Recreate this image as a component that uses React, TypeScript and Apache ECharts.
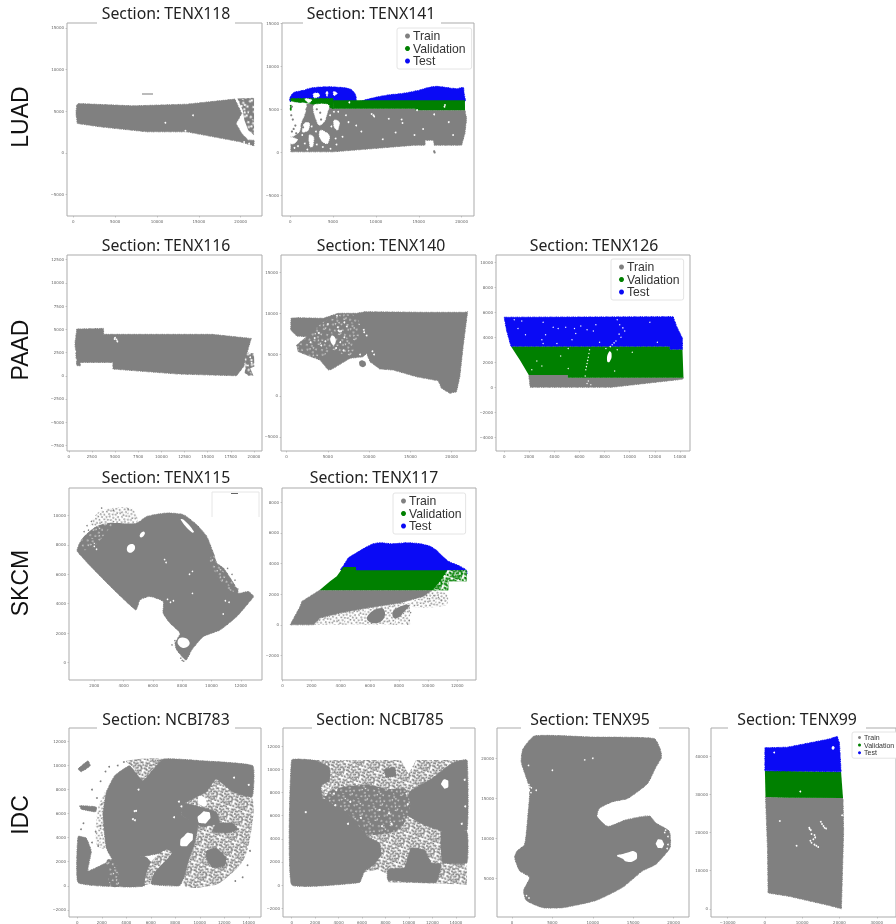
import React, { useEffect, useRef } from "react";
import * as echarts from "echarts";

type P = number[];
const GRAY = "#808080", GREEN = "#008000", BLUE = "#0a0af5", WHITE = "#ffffff";
const FONT = "'Noto Sans', sans-serif";
const LEGEND_FONT = "'Liberation Sans', sans-serif";

const rowLabels = ["LUAD", "PAAD", "SKCM", "IDC"];
const splitNames = ["Train", "Validation", "Test"];

// speckle texture tiles (grain of the tissue spots)
const grainA = [[0.7,1.5],[3.6,0.7],[6.5,2.2],[10.2,0.7],[13.1,2.2],[2.2,4.4],[5.1,5.1],[8.7,4.4],[11.6,5.8],[14.5,4.4],[0.7,7.3],[3.6,8],[7.3,7.3],[10.2,8.7],[13.8,8],[2.2,10.9],[5.8,10.9],[8.7,12.4],[12.4,10.9],[15.3,11.6],[0.7,13.8],[4.4,14.5],[7.3,13.8],[10.9,14.5],[13.8,14.5]];
const grainB = [[2.2,1.8],[8,0.7],[11.6,2.5],[5.1,2.5],[0.7,4.4],[7.3,5.5],[10.2,6.5],[13.1,6.5],[2.2,7.3],[5.8,8.7],[8.7,9.5],[15.3,8],[3.6,11.6],[10.9,11.6],[13.8,10.2],[1.5,15.3],[5.8,13.1],[9.5,14.5],[12.4,13.1],[15.3,14.5]];
const grainGap = [[1.5,2.2],[6.5,1.5],[11.6,3.6],[3.6,6.5],[9.5,7.3],[14.5,8.7],[2.2,12.4],[7.3,11.6],[12.4,13.8],[5.1,15.3],[8.7,2.9],[13.8,12.4],[5.8,5.1],[10.9,10.2]];

function tile(bg: string, fg: string, cells: number[][], size: number) {
  const body = cells.map(([x, y]) => `<rect x="${x}" y="${y}" width="${size}" height="${size}" fill="${fg}"/>`).join("");
  const svg = `<svg xmlns="http://www.w3.org/2000/svg" width="16" height="16"><rect width="16" height="16" fill="${bg}"/>${body}</svg>`;
  return { image: "data:image/svg+xml;charset=utf-8," + encodeURIComponent(svg), repeat: "repeat", imageWidth: 16, imageHeight: 16, rotation: 0.33 } as any;
}
const SPARSE = tile(WHITE, GRAY, grainA, 1.5);
const MEDIUM = tile(WHITE, GRAY, grainA.concat(grainB), 1.8);
const DENSE = tile(GRAY, WHITE, grainGap, 1.2);
const DENSE_OPEN = tile(GRAY, WHITE, grainGap, 2);
const GREEN_MED = tile(WHITE, GREEN, grainA.concat(grainB), 2);

// ---- TENX118
const t118Body: P[] = [[400,5720],[600,5920],[7170,5640],[13540,5840],[19300,6450],[19700,5600],[20120,4720],[19440,3520],[20120,2320],[20900,1520],[21590,1520],[21590,840],[19920,1320],[16730,1920],[13545,2520],[8765,2520],[3190,3120],[480,3520],[320,4720]];
const t118Right: P[] = [[19600,6520],[21590,6600],[21590,2120],[20900,2720],[20440,3920],[20240,5120]];
const t118Holes: P[] = [[13400,2650],[11000,3600],[14300,4500],[21000,1100],[20400,1300]];

// ---- TENX141
const t141Blue: P[] = [[0,5900],[-30,6360],[390,6940],[1000,7100],[1550,7210],[2300,7450],[3110,7560],[4500,7620],[6210,7520],[7000,7350],[7400,7050],[7690,6500],[7700,6000],[8000,5900],[9320,6240],[10500,6500],[11650,6700],[12810,6800],[14000,7000],[15140,7250],[16000,7500],[17085,7670],[18640,7480],[19500,7400],[20190,7550],[20300,6800],[20385,5900],[10000,5700]];
const t141Green: P[] = [[5000,6050],[20385,6050],[20400,4880],[14600,4880],[14600,5050],[5000,5050]];
const t141GreenLeft: P[] = [[80,6240],[2000,6240],[5000,6240],[5000,5080],[3180,5470],[2020,5740],[80,5850]];
const t141Train: P[] = [[80,40],[5050,40],[14560,810],[15730,810],[15730,1390],[16700,1390],[16810,810],[20000,810],[20385,2170],[20580,3910],[20385,4880],[14600,4880],[14600,5050],[5000,5050],[4545,5600],[80,5600]];
const t141White: P[][] = [
  [[0,5780],[1000,5700],[1830,5640],[1710,4500],[1240,3330],[1050,2360],[0,1860]],
  [[2800,5500],[4100,5600],[4545,5400],[4350,4690],[3960,3530],[3380,3140],[2990,3910],[2720,4880]],
  [[3570,2560],[4545,1980],[4350,1010],[3770,1200],[3380,1980]],
  [[1630,3330],[2210,3410],[2100,2560],[1440,2360]],
  [[2210,1980],[2720,1780],[2600,620],[2330,620]],
  [[0,1700],[850,1470],[470,1010],[0,1010]],
  [[5130,3720],[5710,3530],[5520,2560],[5130,2950]],
  [[2700,6800],[3300,6850],[3400,6500],[2800,6350]],
  [[4160,7000],[4400,7000],[4300,6500]],
  [[5050,7050],[5500,6850],[5100,6600]],
  [[1700,6200],[2500,6100],[2200,5750]],
];
const t141Holes: P[] = [[9710,4300],[9500,4450],[9800,4150],[13000,3800],[13100,3400],[15500,2700],[12300,2300],[7700,3100],[8300,2400],[10800,1500],[6500,4300],[6100,1800],[6800,3500],[5600,4700],[16800,4400],[18500,3500],[19000,2000],[11500,3900],[14500,2000],[18000,5300],[18050,5500],[14800,4900],[6900,5800],[5100,4700],[5300,1600],[4700,400],[3100,900],[1700,1000],[900,700],[2000,300],[1400,2000],[3000,2400],[2500,3000],[500,500],[3800,600],[4800,3000],[4650,4300],[5400,900]];
const t141GreenDots: P[] = [[60,5400],[60,5100],[60,4950],[100,5250]];
const t141GrayDots: P[] = [[16800,100],[16850,-40],[200,5300],[120,4300],[300,3800],[600,3100],[400,2700],[2800,3300],[4700,5000],[4400,4200],[1900,5000],[1500,2900],[700,2200],[200,2400],[3100,5000],[3500,4600],[3600,3800]];

// ---- TENX116
const t116Body: P[] = [[870,5030],[3760,5100],[3760,4460],[15470,4460],[19710,4020],[19230,2400],[18900,1000],[18120,0],[11860,180],[4770,720],[4770,1440],[1250,1440],[1250,1080],[870,1080],[670,3480]];
const t116Right: P[] = [[19300,2500],[20000,2400],[20050,1000],[19600,800],[19950,0],[19400,0],[19000,300],[19100,1200],[19000,1800]];
const t116Holes: P[] = [[5000,4100],[5150,3900],[5250,3700],[4950,3950],[700,2600],[750,1700],[11900,60],[19600,2000],[19750,1400],[19350,1100]];

// ---- TENX140
const t140Body: P[] = [[530,9390],[1220,9470],[4440,9390],[6260,10000],[8490,10000],[9490,10190],[16550,10120],[21600,10120],[21930,10190],[21390,5950],[20990,2300],[20590,480],[19780,290],[18770,900],[18370,1820],[15750,2300],[12910,3120],[11300,3240],[10100,4130],[9690,5140],[9290,4730],[7680,4540],[5460,3200],[5050,3120],[4040,4330],[1420,5340],[1220,6150],[2430,7160],[1220,7240],[500,7970]];
const t140Zone: P[] = [[1400,5500],[1400,6150],[2500,7100],[4400,8900],[6300,9800],[8300,9700],[9000,8000],[8300,6000],[7700,4800],[5200,5400],[4100,4500]];
const t140Islet: P[] = [[8900,4200],[9300,4250],[9600,3950],[9450,3550],[9000,3550],[8800,3850]];
const t140Hole: P[] = [[5350,7150],[5800,7150],[5900,6350],[5500,6250]];
const t140Holes: P[] = [[6100,9700],[7000,8900],[5000,8700],[6200,8300],[7300,8400],[3900,7600],[7000,7100],[3400,7000],[4700,6600],[6500,6500],[2900,6500],[4200,6100],[6000,5800],[6900,5500],[9350,8000],[9400,7700],[10400,5400],[10600,5000],[9700,7300],[8900,5000],[6300,7900],[6450,7800],[6600,7850]];

// ---- TENX126
const t126Blue: P[] = [[0,5600],[13460,5650],[13750,4850],[14200,3920],[14200,3040],[13200,3040],[13200,3280],[535,3280],[180,4590]];
const t126Green: P[] = [[535,3280],[13200,3280],[13200,3040],[14200,3040],[14280,770],[5070,770],[5070,990],[1960,990],[1250,2190]];
const t126Train: P[] = [[1960,990],[5070,990],[5070,770],[14280,770],[14200,640],[8570,0],[2070,0]];
const t126Hole: P[] = [[8350,2850],[8550,2700],[8400,2050],[8200,2100]];
const t126Holes: P[] = [[800,5400],[1400,5300],[3100,5200],[3900,4800],[4300,4700],[4900,4800],[5600,4700],[6100,4900],[6600,4600],[7100,4500],[3300,4200],[3000,3800],[3100,3500],[5400,3800],[5700,4300],[7300,5000],[9000,5400],[9200,5000],[9600,4500],[9300,4000],[8900,3700],[8600,3400],[8100,3100],[7600,3600],[6800,3000],[6750,2700],[6700,2400],[6650,2150],[6600,1900],[6550,1650],[6500,1400],[6450,900],[6600,300],[6900,200],[6700,500],[2600,2100],[3000,1700],[2200,1400],[4500,2500],[5100,3100],[9000,3000],[4200,3500],[5100,1500],[10200,2800],[8800,1300],[1100,4700],[1700,4200],[12200,3600],[11600,5200],[9450,4750],[9150,4250],[8750,3550],[8450,3250]];

// ---- TENX115
const t115Body: P[] = [[840,7550],[1135,8350],[2160,9250],[3300,9480],[4890,9480],[5580,9930],[6940,10160],[8080,10050],[8990,9370],[9680,8570],[10130,7440],[10360,6760],[10820,6420],[11500,5400],[11840,4720],[12520,4830],[12870,4490],[12520,4040],[11730,3130],[10590,2220],[9450,1770],[8650,860],[8260,180],[7630,860],[7510,1315],[7850,2000],[7170,2680],[6700,3360],[6700,4150],[5800,4490],[5120,4260],[4820,3580]];
const t115EdgeZone: P[] = [[1135,8350],[2160,9250],[3300,9480],[2900,8950],[2000,7900],[1300,7650]];
const t115TopZone: P[] = [[1700,9350],[2400,10300],[4500,10500],[4950,9800],[4890,9480],[3300,9480],[2160,9300]];
const t115RightZone: P[] = [[10130,7440],[10360,6760],[11500,5400],[11840,4800],[11100,5000],[9900,6800]];
const t115Hole1: P[] = [[4230,7800],[4500,8050],[4750,7950],[4700,7600],[4350,7480]];
const t115Hole2: P[] = [[5100,8650],[5350,8900],[5450,8750],[5200,8500]];
const t115Streak: P[] = [[7900,9700],[8100,9700],[8800,8900],[8650,8850]];
const t115Patch: P[] = [[7700,1500],[8050,1700],[8500,1400],[8300,1050],[7850,1100]];
const t115Holes: P[] = [[2000,7900],[2150,7700],[6800,7000],[6900,6800],[8500,6000],[8700,6200],[7000,4300],[7200,4100],[8700,4700],[10950,4200],[11200,4100],[10800,3300],[7400,4200]];
const t115Specks: P[] = [[2500,10500],[3300,10350],[4300,10450],[1800,9600],[1500,9300],[1300,8900],[1600,9000],[11100,6400],[11400,6000],[11200,5700],[11600,5600],[11800,5000],[2500,6000],[8100,100],[7500,1500],[7300,1200],[8000,150],[7900,300]];

// ---- TENX117
const t117Blue: P[] = [[4000,3600],[4180,3850],[4530,4370],[5000,4650],[5780,5090],[6200,5280],[6700,5360],[7500,5290],[8000,5320],[8530,5360],[9400,5300],[10130,5130],[10600,4850],[10850,4600],[11380,4150],[11800,3980],[12180,3830],[12640,3560],[12640,3300],[5000,3300]];
const t117Green: P[] = [[4180,3780],[5050,3780],[5050,3560],[12640,3560],[12640,2840],[11380,2840],[11380,2250],[2540,2250],[3270,2840],[3730,3170]];
const t117GreenZone: P[] = [[10300,2250],[11380,2250],[11380,2840],[12640,2840],[12640,3560],[11300,3560],[10900,2950]];
const t117Train: P[] = [[2540,2250],[10240,2250],[9670,1850],[8070,1420],[5800,1100],[3950,765],[2580,440],[2130,0],[530,0],[1210,1200],[1330,1530]];
const t117LowZone: P[] = [[2130,0],[8760,0],[8760,1420],[8070,1420],[5800,1100],[3950,765],[2580,440]];
const t117SideZone: P[] = [[9670,1850],[10240,2250],[11300,2000],[11250,1300],[9000,1150],[8760,1420]];
const t117Blob1: P[] = [[5800,500],[6800,1100],[7000,500],[6300,100]];
const t117Blob2: P[] = [[7700,1000],[8700,1300],[8300,800],[8000,500],[7600,500]];
const t117Specks: P[] = [[9500,1900],[9900,1900],[10100,1700],[10400,1900],[10700,1800],[10900,1600],[8700,1100],[8800,800],[8700,300],[8600,50]];

// ---- NCBI783
const n783Main: P[] = [[2370,7795],[3050,9160],[4270,9980],[5360,8750],[6990,10530],[10250,10390],[14330,9980],[14280,7385],[12700,7795],[11340,8890],[10530,7795],[8760,6840],[8490,5880],[9850,5060],[9570,3420],[9170,2325],[8760,820],[8350,0],[6040,140],[6310,1370],[7260,2735],[5490,2460],[2910,2190],[2370,3145],[2090,5880]];
const n783Low: P[] = [[2910,2190],[5490,2460],[6040,1915],[5490,0],[3050,0]];
const n783Left: P[] = [[55,4100],[730,3965],[1140,2870],[870,1230],[2370,1915],[3050,2050],[3050,0],[55,270]];
const n783Mid: P[] = [[8760,6840],[11340,6150],[11610,5200],[10250,4920],[9850,5060],[8490,5880]];
const n783Blob: P[] = [[10530,2870],[11340,3145],[12160,2325],[12020,1640],[11070,1500],[10580,2190]];
const n783Cluster: P[] = [[11340,5200],[12700,5200],[13110,4650],[12160,4375],[11070,4510]];
const n783IsleA: P[] = [[55,9710],[870,10390],[1060,9980],[330,9490]];
const n783IsleB: P[] = [[190,6650],[1550,6560],[1500,6150],[330,6370]];
const n783RightZone: P[] = [[8620,6970],[11340,8890],[12700,7790],[14280,7250],[14200,4510],[13520,2050],[11890,410],[11070,0],[8760,0],[9300,2600],[9850,4790],[8620,5880]];
const n783TopZone: P[] = [[4000,10390],[6990,10530],[6180,9440],[5250,8750],[4540,9850]];
const n783LeftZone: P[] = [[2370,7930],[2090,5880],[2370,3150],[1550,3420],[1690,6430]];
const n783Lane: P[] = [[7260,3000],[7700,2700],[6310,1100],[5900,140],[5500,140],[5800,1500],[6300,2300]];
const n783Strip: P[] = [[2400,2100],[3100,2100],[3400,0],[2700,0]];
const n783Egg1: P[] = [[9850,5470],[10120,6020],[10580,6150],[10850,5880],[10660,5390],[10250,5200]];
const n783Egg2: P[] = [[8400,3555],[8760,4185],[9220,4375],[9440,4100],[9170,3555],[8680,3280]];
const n783Egg3: P[] = [[9850,7110],[10120,7465],[10580,6840],[10200,6645]];
const n783Holes: P[] = [[4680,6210],[4800,6230],[4540,5550],[4700,5450],[8300,7000],[8500,6600],[7900,5700],[8900,4200],[5000,8000],[14000,8400],[12800,9000]];
const n783Specks: P[] = [[1900,5000],[1500,4500],[1200,3600],[1700,3300],[2000,6800],[1600,7300],[1200,8000],[1900,8700],[2300,9500],[2600,9900],[3300,10000],[3800,10300],[300,4700],[500,5200],[13900,1700],[14100,2900],[12900,400],[13500,700]];

// ---- NCBI785
const n785Base: P[] = [[0,10810],[9330,10810],[9960,9590],[10610,10810],[14950,10810],[14950,30],[12450,140],[8200,230],[8200,940],[7350,1360],[6070,1080],[5790,230],[0,30]];
const n785Left: P[] = [[0,10810],[1960,10780],[3230,10160],[3230,9020],[2520,8600],[2670,7460],[4230,7320],[6210,7320],[6350,4340],[7490,3630],[7630,2640],[7060,1790],[6210,1220],[5790,230],[0,30]];
const n785Mid: P[] = [[2700,7700],[4000,8400],[6500,8700],[8200,8300],[9700,8300],[10100,7000],[9800,5800],[9200,4800],[7700,4400],[6400,4400],[5000,6000]];
const n785Right: P[] = [[10040,8030],[11890,9160],[13730,10580],[14950,10810],[14950,4770],[13020,4620],[11320,5190],[9900,6040]];
const n785RightLow: P[] = [[12740,4620],[14950,4620],[14950,1930],[12880,1930]];
const n785Bottom: P[] = [[10180,3200],[11320,3060],[11890,1930],[12740,1790],[12310,230],[8200,450],[8200,1360],[9620,1500]];
const n785Top: P[] = [[7910,10010],[8770,10160],[8910,9450],[8060,9300]];
const n785Hole: P[] = [[12800,8880],[13170,9110],[13360,8740],[13170,8370],[12860,8540]];
const n785Holes: P[] = [[2700,8300],[3000,8000],[3300,8400],[3600,7900],[3100,8500],[3800,8200],[2900,7800],[3500,8700],[9800,7900],[9900,7000],[5000,7200],[7500,6500],[8300,6200],[8500,5300],[5900,5800],[4800,5300],[7700,5100],[14500,5300],[14800,6800],[14750,9100],[12600,4300],[3700,6900],[1200,6300]];

// ---- TENX95
const t95Body: P[] = [[2800,22800],[10000,22650],[17600,22470],[18340,21150],[18500,20120],[17800,18880],[16760,16820],[14320,14970],[12470,14560],[10820,13730],[10530,12700],[11850,11470],[14110,12290],[17000,12780],[17820,11880],[19460,10850],[19550,8790],[17820,6730],[16170,5900],[13700,3840],[10410,2200],[6300,1290],[3830,1290],[1770,2200],[1440,3430],[2180,5080],[950,5900],[330,7550],[620,8380],[1560,9200],[1975,12900],[2180,16200],[1150,19500],[1360,21150]];
const t95HoleA: P[] = [[17920,9600],[18300,9830],[18700,9500],[18700,8950],[18300,8750],[17920,9000]];
const t95HoleB: P[] = [[13000,7800],[13700,8000],[14340,8200],[15150,8320],[15480,7800],[15150,7200],[14130,7080],[13700,7410]];
const t95Holes: P[] = [[2200,16400],[2150,16000],[2350,15700],[2400,16300],[2100,16700],[5000,18500],[2050,19100],[10000,20000],[1800,2800],[2100,2500],[19300,9200],[19200,8700],[19000,7800],[19300,10200],[18900,10700],[9000,19800],[19000,11000],[3000,16000]];

// ---- TENX99
const t99Blue: P[] = [[0,42140],[6030,42310],[17240,44460],[19400,45150],[20000,43430],[20430,35860],[10775,36030],[0,36120]];
const t99Green: P[] = [[0,36120],[10775,36030],[20430,35860],[20950,28980],[6030,29070],[170,29240]];
const t99Train: P[] = [[170,29240],[6030,29070],[20950,28980],[21120,20210],[20520,0],[17240,860],[6460,3270],[860,4130],[690,15910]];
const t99Hole: P[] = [[18000,42400],[18500,42500],[18600,41900],[18100,41700]];
const t99Holes: P[] = [[11900,21200],[12000,20900],[12300,20600],[12500,19600],[13300,19300],[13500,18700],[13000,18200],[12200,17800],[12500,17300],[13300,16800],[13800,16500],[14300,16200],[15000,22800],[15300,22200],[15700,21700],[16000,21200],[16400,21000],[8500,16500],[4000,23000],[20700,24500],[9500,30700],[2500,40900]];

const xTicks118 = [0,5000,10000,15000,20000];
const yTicks118 = [-5000,0,5000,10000,15000];
const xTicks116 = [0,2500,5000,7500,10000,12500,15000,17500,20000];
const yTicks116 = [-7500,-5000,-2500,0,2500,5000,7500,10000,12500];
const xTicks126 = [0,2000,4000,6000,8000,10000,12000,14000];
const yTicks126 = [-4000,-2000,0,2000,4000,6000,8000,10000];
const xTicks115 = [2000,4000,6000,8000,10000,12000];
const yTicks115 = [0,2000,4000,6000,8000,10000];
const xTicks117 = [0,2000,4000,6000,8000,10000,12000];
const yTicks117 = [-2000,0,2000,4000,6000,8000];
const xTicks783 = [0,2000,4000,6000,8000,10000,12000,14000];
const yTicks783 = [-2000,0,2000,4000,6000,8000,10000,12000];
const xTicks95 = [0,5000,10000,15000,20000];
const yTicks95 = [5000,10000,15000,20000];
const xTicks99 = [-10000,0,10000,20000,30000];
const yTicks99 = [0,10000,20000,30000,40000];

const sectionNames = ["TENX118","TENX141","TENX116","TENX140","TENX126","TENX115","TENX117","NCBI783","NCBI785","TENX95","TENX99"];

const layout = [
  { l:67,  t:23,  w:195, h:193, tx:166, ty:13,  gap:[97,235],  gh:25, x:[-750,22540],  y:[-7600,15600] },
  { l:282, t:23,  w:192, h:193, tx:371, ty:13,  gap:[303,441], gh:25, x:[-960,21445],  y:[-7440,15050] },
  { l:67,  t:255, w:195, h:196, tx:166, ty:245, gap:[97,235],  gh:0,  x:[-190,20870],  y:[-8100,13000] },
  { l:281, t:255, w:195, h:196, tx:381, ty:245, gap:[312,450], gh:0,  x:[-680,22950],  y:[-6700,17070] },
  { l:496, t:255, w:194, h:196, tx:594, ty:245, gap:[525,663], gh:0,  x:[-650,14800],  y:[-5100,10580] },
  { l:69,  t:488, w:193, h:192, tx:166, ty:477, gap:[97,235],  gh:0,  x:[270,13450],   y:[-1180,11860] },
  { l:282, t:488, w:194, h:192, tx:374, ty:477, gap:[305,443], gh:0,  x:[-30,13285],   y:[-3600,8930] },
  { l:69,  t:728, w:192, h:192, tx:166, ty:719, gap:[97,235],  gh:30, x:[-680,15000],  y:[-2600,13125] },
  { l:283, t:728, w:192, h:192, tx:380, ty:719, gap:[312,450], gh:30, x:[-740,15630],  y:[-2750,13570] },
  { l:497, t:728, w:192, h:192, tx:590, ty:719, gap:[521,659], gh:30, x:[-1850,21900], y:[120,23790] },
  { l:711, t:728, w:192, h:192, tx:797, ty:719, gap:[728,866], gh:30, x:[-14450,35160],y:[-2140,47330] },
];
const ticks: number[][][] = [
  [xTicks118,yTicks118],[xTicks118,yTicks118],[xTicks116,yTicks116],[xTicks118,yTicks118],[xTicks126,yTicks126],
  [xTicks115,yTicks115],[xTicks117,yTicks117],[xTicks783,yTicks783],[xTicks783,yTicks783],[xTicks95,yTicks95],[xTicks99,yTicks99],
];

const fmt = (v: number) => (v < 0 ? "\u2212" + Math.abs(v) : String(v));

function poly(i: number, points: P[], fill: any, o: { name?: string; z?: number; smooth?: number; rough?: boolean } = {}) {
  const solid = typeof fill === "string";
  return {
    type: "custom", name: o.name, xAxisIndex: i, yAxisIndex: i, data: points, z: o.z ?? 2, silent: true, clip: false,
    itemStyle: { color: solid ? fill : GRAY }, encode: { x: 0, y: 1 },
    renderItem: (params: any, api: any) => {
      if (params.dataIndex !== 0) return undefined;
      const style: any = { fill };
      if (o.rough && solid) { style.stroke = fill; style.lineWidth = 1; style.lineDash = [0.7, 0.5, 1.5, 0.8, 0.9, 1.2]; }
      return { type: "polygon", shape: { points: points.map((p) => api.coord(p)), smooth: o.smooth ?? 0 }, style };
    },
  };
}
function dots(i: number, points: P[], color: string, size = 2, z = 6) {
  return { type: "scatter", xAxisIndex: i, yAxisIndex: i, data: points, symbolSize: size, z, silent: true, itemStyle: { color, opacity: 1 } };
}

function buildSeries() {
  const s: any[] = [];
  const r = { rough: true };
  const org = { rough: true, smooth: 0.18 };
  // TENX118
  s.push(poly(0,t118Body,GRAY,{ name:"Train", ...r }),poly(0,t118Right,DENSE_OPEN,{ z:3 }),dots(0,t118Holes,WHITE,1.8));
  // TENX141
  s.push(poly(1,t141Train,GRAY,{ name:"Train", ...r }),poly(1,t141Blue,BLUE,{ name:"Test", z:3, ...org }),poly(1,t141GreenLeft,GREEN,{ z:4, ...r }),poly(1,t141Green,GREEN,{ name:"Validation", z:4 }));
  t141White.forEach((w)=>s.push(poly(1,w,WHITE,{ z:5, rough:true, smooth:0.3 })));
  s.push(dots(1,t141Holes,WHITE,1.8),dots(1,t141GreenDots,GREEN,1.8),dots(1,t141GrayDots,GRAY,2.2));
  // TENX116
  s.push(poly(2,t116Body,GRAY,r),poly(2,t116Right,DENSE_OPEN,{ z:3 }),dots(2,t116Holes,WHITE,1.8));
  // TENX140
  s.push(poly(3,t140Body,GRAY,r),poly(3,t140Zone,DENSE,{ z:3, smooth:0.3 }),poly(3,t140Islet,GRAY,{ smooth:0.6 }),poly(3,t140Hole,WHITE,{ z:4, smooth:0.6 }),dots(3,t140Holes,WHITE,1.8));
  // TENX126
  s.push(poly(4,t126Train,GRAY,{ name:"Train", ...r }),poly(4,t126Green,GREEN,{ name:"Validation", z:3 }),poly(4,t126Blue,BLUE,{ name:"Test", z:3, ...r }),poly(4,t126Hole,WHITE,{ z:4, smooth:0.6 }),dots(4,t126Holes,WHITE,1.3));
  // TENX115
  s.push(poly(5,t115Body,GRAY,org),poly(5,t115TopZone,SPARSE,{ smooth:0.3 }),poly(5,t115EdgeZone,DENSE,{ z:3, smooth:0.3 }),poly(5,t115RightZone,DENSE,{ z:3, smooth:0.3 }));
  [t115Hole1,t115Hole2,t115Streak,t115Patch].forEach((p)=>s.push(poly(5,p,WHITE,{ z:4, smooth:0.5 })));
  s.push(dots(5,t115Holes,WHITE,1.6),dots(5,t115Specks,GRAY,1.5));
  // TENX117
  s.push(poly(6,t117LowZone,SPARSE),poly(6,t117SideZone,SPARSE,{ smooth:0.3 }),poly(6,t117Train,GRAY,{ name:"Train", ...r }),poly(6,t117Blob1,GRAY,{ smooth:0.5 }),poly(6,t117Blob2,GRAY,{ smooth:0.5 }),poly(6,t117Blue,BLUE,{ name:"Test", z:3, ...org }),poly(6,t117Green,GREEN,{ name:"Validation", z:3 }),poly(6,t117GreenZone,GREEN_MED,{ z:4 }),dots(6,t117Specks,GRAY,1.4));
  // NCBI783
  s.push(poly(7,n783RightZone,MEDIUM,{ smooth:0.3 }),poly(7,n783TopZone,MEDIUM,{ smooth:0.3 }),poly(7,n783LeftZone,SPARSE,{ smooth:0.3 }));
  [n783Main,n783Low,n783Left,n783Mid,n783Blob,n783Cluster,n783IsleA,n783IsleB].forEach((p)=>s.push(poly(7,p,GRAY,{ z:3, rough:true, smooth:0.12 })));
  s.push(poly(7,n783Lane,MEDIUM,{ z:4, smooth:0.3 }),poly(7,n783Strip,DENSE,{ z:4, smooth:0.3 }));
  [n783Egg1,n783Egg2,n783Egg3].forEach((p)=>s.push(poly(7,p,WHITE,{ z:5, smooth:0.8 })));
  s.push(dots(7,n783Holes,WHITE,2),dots(7,n783Specks,GRAY,1.8));
  // NCBI785
  s.push(poly(8,n785Base,MEDIUM));
  [n785Left,n785Right,n785RightLow,n785Bottom,n785Top].forEach((p)=>s.push(poly(8,p,GRAY,{ z:3, rough:true, smooth:0.1 })));
  s.push(poly(8,n785Mid,DENSE,{ z:3, smooth:0.25 }),poly(8,n785Hole,WHITE,{ z:4, smooth:0.8 }),dots(8,n785Holes,WHITE,2));
  // TENX95
  s.push(poly(9,t95Body,GRAY,org),poly(9,t95HoleA,WHITE,{ z:4, smooth:0.8 }),poly(9,t95HoleB,WHITE,{ z:4, smooth:0.6 }),dots(9,t95Holes,WHITE,1.6));
  // TENX99
  s.push(poly(10,t99Train,GRAY,{ name:"Train", ...r }),poly(10,t99Green,GREEN,{ name:"Validation", z:3 }),poly(10,t99Blue,BLUE,{ name:"Test", z:3, ...r }),poly(10,t99Hole,WHITE,{ z:4, smooth:0.8 }),dots(10,t99Holes,WHITE,1.8));
  return s;
}

const legendSpec = [
  { left:397, top:28, pad:[2,6,2,8], size:12.2, icon:5, gap:0.5 },
  { left:611, top:259, pad:[2,4,2,8], size:12.2, icon:5, gap:0.5 },
  { left:393, top:493, pad:[2,4,2,8], size:12.2, icon:5, gap:0.5 },
  { left:852, top:732, pad:[2,3,2,6], size:7, icon:3, gap:0.6 },
];

export default function App() {
  const ref = useRef<HTMLDivElement>(null);
  useEffect(() => {
    const chart = echarts.init(ref.current!, undefined, { renderer: "svg" });
    const graphics: any[] = [];
    layout.forEach((g, i) => {
      if (g.gh) graphics.push({ type:"rect", z:50, silent:true, shape:{ x:g.gap[0], y:g.t+2-g.gh, width:g.gap[1]-g.gap[0], height:g.gh }, style:{ fill:"#fff" } });
      graphics.push({ type:"text", z:51, silent:true, x:g.tx, y:g.ty, style:{ text:"Section: "+sectionNames[i], font:`15.8px ${FONT}`, fill:"#222", textAlign:"center", textVerticalAlign:"middle" } });
    });
    [117,350,583,815].forEach((y,i)=>graphics.push({ type:"text", z:51, silent:true, x:20, y, rotation:Math.PI/2, style:{ text:rowLabels[i], font:`23px 'Liberation Sans', sans-serif`, fill:"#111", textAlign:"center", textVerticalAlign:"middle" } }));
    // faint leftover legend marks in two panels
    graphics.push({ type:"polyline", z:40, silent:true, shape:{ points:[[212,517],[212,492],[259,492],[259,517]] }, style:{ stroke:"#e6e6e6", fill:"none", lineWidth:1 } });
    graphics.push({ type:"rect", z:41, silent:true, shape:{ x:231, y:493, width:7, height:1 }, style:{ fill:"#666" } });
    graphics.push({ type:"rect", z:41, silent:true, shape:{ x:142, y:93, width:11, height:2 }, style:{ fill:"#bbb" } });

    chart.setOption({
      animation: false,
      backgroundColor: "#fff",
      grid: layout.map((g) => ({ left:g.l, top:g.t, width:g.w, height:g.h, show:true, borderColor:"#ababab", borderWidth:1, backgroundColor:"#fff", containLabel:false })),
      xAxis: layout.map((g,i)=>({
        type:"value", gridIndex:i, min:g.x[0], max:g.x[1], splitLine:{show:false}, axisLine:{show:false,onZero:false},
        axisTick:{ show:true, length:1.5, lineStyle:{color:"#999",width:0.5}, customValues:ticks[i][0] },
        axisLabel:{ fontSize:4, color:"#666", margin:3, fontFamily:"'DejaVu Sans'", customValues:ticks[i][0], formatter:fmt },
      })),
      yAxis: layout.map((g,i)=>({
        type:"value", gridIndex:i, min:g.y[0], max:g.y[1], splitLine:{show:false}, axisLine:{show:false,onZero:false},
        axisTick:{ show:true, length:1.5, lineStyle:{color:"#999",width:0.5}, customValues:ticks[i][1] },
        axisLabel:{ fontSize:4, color:"#666", margin:3, fontFamily:"'DejaVu Sans'", customValues:ticks[i][1], formatter:fmt },
      })),
      legend: legendSpec.map((l)=>({
        left:l.left, top:l.top, orient:"vertical", data:splitNames, icon:"circle", itemWidth:l.icon, itemHeight:l.icon, itemGap:l.gap,
        padding:l.pad, backgroundColor:"#fff", borderColor:"#e4e4e4", borderWidth:1, borderRadius:2, selectedMode:false, z:20,
        textStyle:{ fontSize:l.size, color:"#333", fontFamily:LEGEND_FONT, padding:[0,0,0,-2] },
      })),
      graphic: graphics,
      series: buildSeries(),
    });
    return () => chart.dispose();
  }, []);
  return <div ref={ref} style={{ position:"absolute", left:0, top:0, width:896, height:924, filter:"blur(0.35px)" }} />;
}
